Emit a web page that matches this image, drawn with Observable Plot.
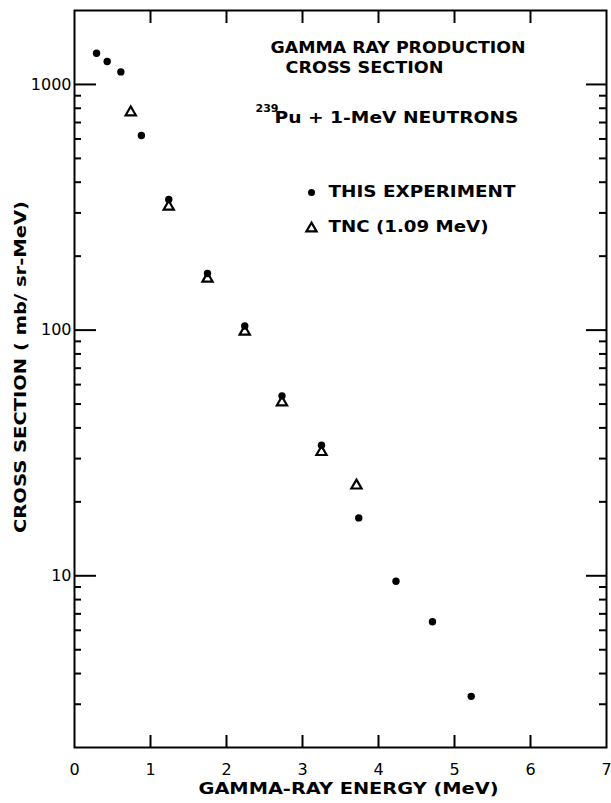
<!DOCTYPE html>
<html><head><meta charset="utf-8">
<script src="https://cdn.jsdelivr.net/npm/d3@7"></script>
<script src="https://cdn.jsdelivr.net/npm/@observablehq/plot@0.6"></script>
<style>body{margin:0;background:#fff} svg{display:block}</style>
</head><body><div id="chart"></div>
<script>
// "This experiment" (filled circles)
const expEnergy = [0.29, 0.43, 0.61, 0.88, 1.24, 1.75, 2.24, 2.73, 3.25, 3.74, 4.23, 4.71, 5.22];
const expSigma  = [1340, 1240, 1125, 620, 340, 170, 104, 54, 34, 17.2, 9.5, 6.5, 3.23];
// TNC (1.09 MeV) (open triangles)
const tncEnergy = [0.74, 1.24, 1.75, 2.24, 2.73, 3.25, 3.71];
const tncSigma  = [770, 318, 162, 98.6, 50.8, 31.9, 23.3];
// axes
const xTickValues = [0, 1, 2, 3, 4, 5, 6, 7];
const yMajorTicks = [10, 100, 1000];
const yMinorTicks = [3, 4, 5, 6, 7, 8, 9, 20, 30, 40, 50, 60, 70, 80, 90, 200, 300, 400, 500, 600, 700, 800, 900];
// texts
const titleLines = ["GAMMA RAY PRODUCTION", "CROSS SECTION"];
const reactionIsotope = "239";
const reactionText = "Pu + 1-MeV NEUTRONS";
const legendLabels = ["THIS EXPERIMENT", "TNC (1.09 MeV)"];
const xLabel = "GAMMA-RAY ENERGY (MeV)";
const yLabel = "CROSS SECTION ( mb/ sr-MeV)";

const W = 611, H = 803, ML = 74, MR = 5, MT = 10, MB = 56;
const FW = W - ML - MR, FH = H - MT - MB;

const exp = expEnergy.map((e, i) => ({e, s: expSigma[i]}));
const tnc = tncEnergy.map((e, i) => ({e, s: tncSigma[i]}));
const inner = xTickValues.slice(1, -1);

const ann = (txt, dx, dy, size = 15) =>
  Plot.text([txt], {text: d => d, frameAnchor: "top-left", dx, dy, textAnchor: "start", lineAnchor: "middle", fontSize: size, fontWeight: "bold"});

const chart = Plot.plot({
  width: W, height: H,
  marginLeft: ML, marginRight: MR, marginTop: MT, marginBottom: MB,
  style: {fontFamily: "DejaVu Sans", background: "#fff", color: "#000"},
  x: {domain: [0, 7], axis: null},
  y: {type: "log", domain: [2, 2000], axis: null},
  marks: [
    // ticks
    Plot.tickX(inner, {x: d => d, insetTop: FH - 12, stroke: "#000", strokeWidth: 2}),
    Plot.tickX(inner, {x: d => d, insetBottom: FH - 13, stroke: "#000", strokeWidth: 2}),
    Plot.tickY(yMajorTicks, {y: d => d, insetRight: FW - 22, stroke: "#000", strokeWidth: 2}),
    Plot.tickY(yMinorTicks, {y: d => d, insetRight: FW - 7, stroke: "#000", strokeWidth: 2}),
    Plot.tickY(yMajorTicks, {y: d => d, insetLeft: FW - 20, stroke: "#000", strokeWidth: 2}),
    Plot.tickY(yMinorTicks, {y: d => d, insetLeft: FW - 7, stroke: "#000", strokeWidth: 2}),
    Plot.frame({stroke: "#000", strokeWidth: 2}),
    // tick labels
    Plot.text(xTickValues, {x: d => d, text: d => String(d), frameAnchor: "bottom", lineAnchor: "middle", dy: 22, fontSize: 16}),
    Plot.text(yMajorTicks, {y: d => d, text: d => String(d), frameAnchor: "left", lineAnchor: "middle", dx: -3, textAnchor: "end", fontSize: 16}),
    // axis titles
    Plot.text([xLabel], {text: d => d, frameAnchor: "bottom", textAnchor: "middle", lineAnchor: "middle", dx: 8, dy: 41, fontSize: 16, fontWeight: "bold"}),
    Plot.text([yLabel], {text: d => d, frameAnchor: "left", textAnchor: "middle", lineAnchor: "middle", rotate: -90, dx: -54, dy: -12, fontSize: 16, fontWeight: "bold"}),
    // annotations
    ann(titleLines[0], 196, 38),
    ann(titleLines[1], 211, 58),
    ann(reactionIsotope, 181, 98, 11),
    ann(reactionText, 200, 108),
    ann(legendLabels[0], 254, 182),
    ann(legendLabels[1], 254, 217),
    Plot.dot([0], {frameAnchor: "top-left", dx: 237, dy: 182, r: 3.5, fill: "#000"}),
    Plot.dot([0], {frameAnchor: "top-left", dx: 237, dy: 218, r: 3.8, symbol: "triangle", fill: "#fff", stroke: "#000", strokeWidth: 2.2}),
    // data
    Plot.dot(tnc, {x: "e", y: "s", r: 3.8, symbol: "triangle", fill: "#fff", stroke: "#000", strokeWidth: 2.2}),
    Plot.dot(exp, {x: "e", y: "s", r: 3.7, fill: "#000"})
  ]
});

// match the lettering widths of the original
const widths = new Map([
  [titleLines[0], 255], [titleLines[1], 158], [reactionText, 244],
  [legendLabels[0], 187], [legendLabels[1], 160], [xLabel, 300], [yLabel, 332]
]);
chart.querySelectorAll("text").forEach(t => {
  const w = widths.get(t.textContent);
  if (w) { t.setAttribute("textLength", w); t.setAttribute("lengthAdjust", "spacingAndGlyphs"); }
});
document.getElementById("chart").appendChild(chart);
</script>
</body></html>
